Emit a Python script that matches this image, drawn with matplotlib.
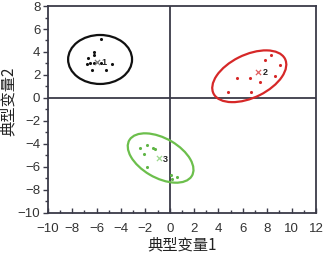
import matplotlib
matplotlib.use("Agg")
import matplotlib.pyplot as plt
from matplotlib.patches import Ellipse
from matplotlib.ticker import MultipleLocator

plt.rcParams['font.family'] = ['Liberation Sans', 'Noto Sans CJK SC', 'DejaVu Sans']

# group 1 (black)
g1_x = [-5.66, -6.21, -6.21, -6.68, -6.57, -6.81, -6.21, -5.66, -6.35, -5.20, -4.76]
g1_y = [5.10, 3.97, 3.74, 3.45, 3.07, 2.93, 3.01, 3.01, 2.43, 2.43, 2.93]
# group 2 (red)
g2_x = [8.29, 7.83, 9.06, 8.65, 6.57, 5.53, 7.39, 4.79, 6.65]
g2_y = [3.74, 3.28, 2.87, 1.88, 1.71, 1.71, 1.36, 0.55, 0.55]
# group 3 (green)
g3_x = [-2.46, -1.83, -1.37, -1.23, -2.14, -1.83, 0.14, 0.22, 0.60]
g3_y = [-4.38, -4.13, -4.32, -4.43, -4.90, -6.03, -6.70, -7.07, -6.84]

centroids_x = [-5.95, 7.25, -0.88]
centroids_y = [3.15, 2.29, -5.25]
centroid_labels = ['1', '2', '3']

# confidence ellipses: center x, center y, width, height, angle
ell_cx = [-5.72, 6.53, -0.75]
ell_cy = [3.35, 1.89, -5.22]
ell_w = [5.25, 6.6, 6.0]
ell_h = [4.26, 3.7, 3.4]
ell_ang = [0, 28, -32]

colors = ['#111111', '#d62828', '#6cbf4c']
pt_colors = ['#111111', '#d62828', '#5fb545']
cent_colors = ['#777777', '#e06060', '#9fd890']

xlabel = '典型变量1'
ylabel = '典型变量2'

fig = plt.figure(figsize=(3.24, 2.61), dpi=100)
ax = fig.add_axes([0.148, 0.184, 0.827, 0.793])

ax.axhline(0, color='#3a3a48', lw=1.3, zorder=1)
ax.axvline(0, color='#3a3a48', lw=1.3, zorder=1)

groups = [(g1_x, g1_y), (g2_x, g2_y), (g3_x, g3_y)]
for i, (gx, gy) in enumerate(groups):
    ax.scatter(gx, gy, s=5, color=pt_colors[i], zorder=3, linewidths=0)
    e = Ellipse((ell_cx[i], ell_cy[i]), ell_w[i], ell_h[i], angle=ell_ang[i],
                fill=False, edgecolor=colors[i], lw=1.6, zorder=2)
    ax.add_patch(e)
    ax.scatter([centroids_x[i]], [centroids_y[i]], marker='x', s=14,
               color=cent_colors[i], linewidths=0.9, zorder=4)
    ax.text(centroids_x[i] + 0.35, centroids_y[i] - 0.1, centroid_labels[i],
            fontsize=6.5, fontweight='bold', color='#222222',
            ha='left', va='center', zorder=5)

ax.set_xlim(-10, 12)
ax.set_ylim(-10, 8)
ax.xaxis.set_major_locator(MultipleLocator(2))
ax.xaxis.set_minor_locator(MultipleLocator(1))
ax.yaxis.set_major_locator(MultipleLocator(2))
ax.yaxis.set_minor_locator(MultipleLocator(1))

for sp in ax.spines.values():
    sp.set_color('#3a3a48')
    sp.set_linewidth(1.3)

ax.tick_params(axis='x', which='major', direction='in', length=3.5, width=1,
               color='#3a3a48', labelsize=9.5, pad=7, labelcolor='#333333')
ax.tick_params(axis='x', which='minor', direction='in', length=2, width=1,
               color='#3a3a48')
ax.tick_params(axis='y', which='major', direction='out', length=3.5, width=1,
               color='#3a3a48', labelsize=9.5, pad=2, labelcolor='#333333')
ax.tick_params(axis='y', which='minor', direction='out', length=2, width=1,
               color='#3a3a48')

ax.set_xlabel(xlabel, fontsize=11, family=['Noto Sans CJK SC', 'DejaVu Sans'],
              labelpad=1, color='#222222')
ax.set_ylabel(ylabel, fontsize=11, family=['Noto Sans CJK SC', 'DejaVu Sans'],
              labelpad=1, color='#222222')
ax.yaxis.set_label_coords(-0.115, 0.54)

fig.savefig('out.png', dpi=100)
